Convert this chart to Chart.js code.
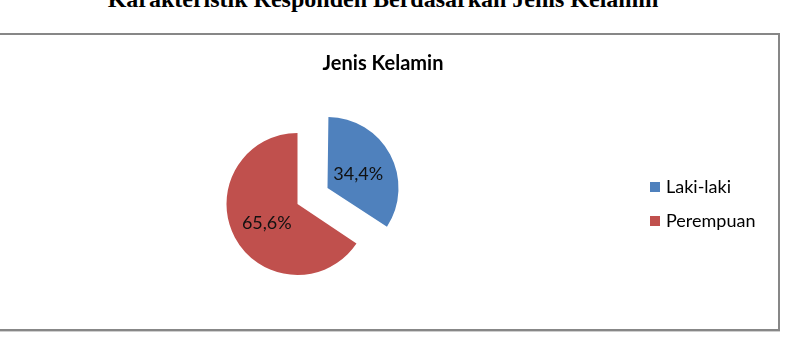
<!DOCTYPE html>
<html>
<head>
<meta charset="utf-8">
<script src="https://cdn.jsdelivr.net/npm/chart.js@4"></script>
<style>
  html, body { margin: 0; padding: 0; background: #fff; width: 791px; height: 344px; overflow: hidden; }
  #heading {
    position: absolute; left: 0; width: 766px; top: -13px; line-height: 24px; text-align: center;
    font-family: "Liberation Serif", "Times New Roman", serif; font-weight: bold; font-size: 24px;
    color: #000; white-space: nowrap;
  }
  #box {
    position: absolute; left: -4px; top: 33px; width: 780px; height: 294px;
    border: 2px solid #878787; box-shadow: 0 1px 0 #cfcfcf;
  }
  #wrap { position: absolute; left: 4px; top: 0; width: 766px; height: 293px; }
  #ctitle {
    position: absolute; left: 0; width: 766px; top: 52px; line-height: 20px; text-align: center;
    font-family: Lato, sans-serif; font-weight: bold; font-size: 20px; color: #000;
  }
  #legend { position: absolute; left: 650px; top: 0; font-family: Lato, sans-serif; font-size: 18px; line-height: 18px; color: #000; }
  .item { position: absolute; white-space: nowrap; }
  .sw { position: absolute; left: 0; width: 10px; height: 10px; }
  .lbl { position: absolute; left: 16px; top: 0; }
</style>
</head>
<body>
<div id="heading">Karakteristik Responden Berdasarkan Jenis Kelamin</div>
<div id="box">
  <div id="wrap"><canvas id="pie"></canvas></div>
</div>
<div id="ctitle"></div>
<div id="legend"></div>
<script>
const chartTitle = "Jenis Kelamin";
const categories = ["Laki-laki", "Perempuan"];
const percentages = [34.4, 65.6];
const sliceColors = ["#4F81BD", "#C0504D"];
const sliceOffsets = [136, 0];

const fmt = (v) => v.toFixed(1).replace(".", ",") + "%";

document.getElementById("ctitle").textContent = chartTitle;

const legend = document.getElementById("legend");
const legendTops = [177, 211];
categories.forEach((c, i) => {
  const item = document.createElement("div");
  item.className = "item";
  item.style.top = legendTops[i] + "px";
  item.innerHTML = `<span class="sw" style="top:5px;background:${sliceColors[i]}"></span><span class="lbl">${c}</span>`;
  legend.appendChild(item);
});

// exploded arcs get a slightly bigger radius in Chart.js; pull it back so both slices match
const keepRadius = {
  id: "keepRadius",
  afterDatasetUpdate(chart, args) {
    args.meta.data.forEach((arc) => {
      const shift = (arc.options.offset || 0) / 4;
      if (!shift) return;
      const fix = 1 - Math.sin(Math.min(Math.PI, arc.circumference || 0));
      arc.outerRadius -= shift * fix;
    });
  }
};

const pieLabels = {
  id: "pieLabels",
  afterDatasetsDraw(chart) {
    const ctx = chart.ctx;
    const meta = chart.getDatasetMeta(0);
    ctx.save();
    ctx.font = "18px Lato, sans-serif";
    ctx.fillStyle = "#111";
    ctx.textAlign = "center";
    ctx.textBaseline = "middle";
    meta.data.forEach((arc, i) => {
      const half = (arc.startAngle + arc.endAngle) / 2;
      const shift = (arc.options.offset || 0) / 4;
      const d = shift + 71 * 0.49;
      ctx.fillText(fmt(percentages[i]), arc.x + Math.cos(half) * d, arc.y + Math.sin(half) * d + 3);
    });
    ctx.restore();
  }
};

new Chart(document.getElementById("pie"), {
  type: "pie",
  data: {
    labels: categories,
    datasets: [{
      data: percentages,
      backgroundColor: sliceColors,
      borderWidth: 0,
      offset: sliceOffsets,
      hoverOffset: 0,
      radius: 71
    }]
  },
  options: {
    responsive: true,
    maintainAspectRatio: false,
    animation: false,
    events: [],
    layout: { padding: { left: 0, right: 175, top: 45, bottom: 0 } },
    plugins: {
      legend: { display: false },
      tooltip: { enabled: false },
      title: { display: false }
    }
  },
  plugins: [keepRadius, pieLabels]
});
</script>
</body>
</html>
